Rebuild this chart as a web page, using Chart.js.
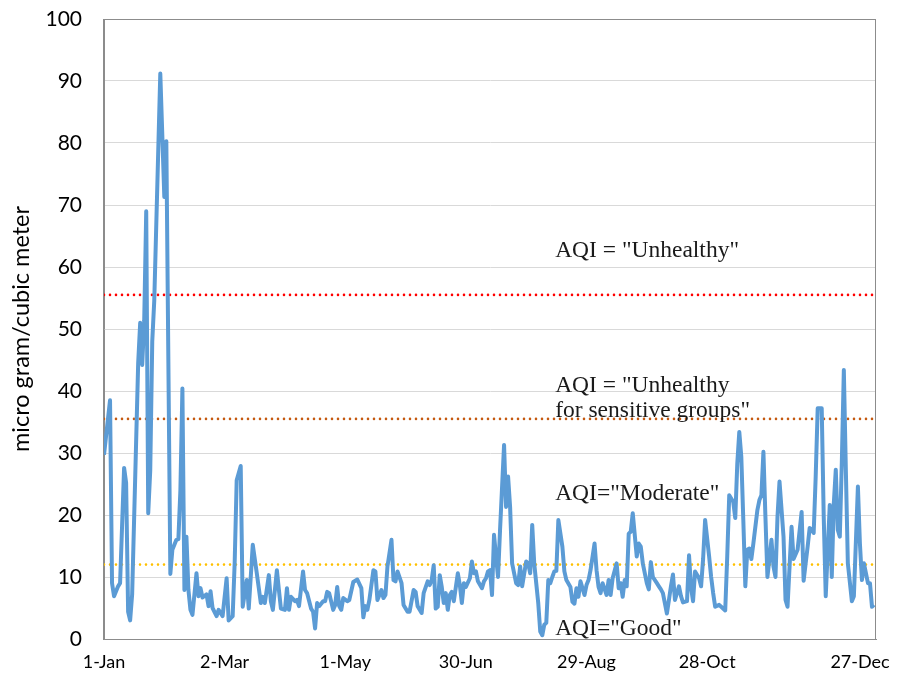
<!DOCTYPE html>
<html>
<head>
<meta charset="utf-8">
<script src="https://cdn.jsdelivr.net/npm/chart.js@4.4.1/dist/chart.umd.min.js"></script>
<style>
  html, body { margin: 0; padding: 0; background: #fff; }
  #wrap { width: 901px; height: 680px; }
</style>
</head>
<body>
<div id="wrap"><canvas id="pm25Chart"></canvas></div>
<script>
// day of the record (0 = 1-Jan) and the PM2.5 reading for that day
const days = [
  0, 3, 4, 5, 7, 8, 10, 11, 12, 13, 14, 17, 18, 19, 20, 21, 22, 23, 24, 25, 28, 30, 31, 33, 34, 36, 37, 38, 39, 40,
  41, 42, 43, 44, 46, 47, 48, 49, 51, 52, 53, 54, 56, 57, 59, 61, 62, 64, 65, 66, 68, 69, 71, 72, 74, 76, 78, 79, 80,
  82, 83, 84, 86, 87, 88, 90, 91, 92, 93, 95, 96, 97, 99, 100, 101, 103, 104, 105, 106, 107, 109, 110, 111, 112,
  114, 115, 116, 117, 118, 119, 121, 122, 124, 126, 128, 129, 130, 131, 132, 134, 135, 136, 138, 139, 140, 141,
  143, 144, 145, 146, 148, 149, 151, 152, 154, 155, 156, 158, 159, 161, 162, 163, 164, 165, 166, 167, 168, 169,
  170, 171, 172, 173, 174, 176, 177, 178, 179, 180, 182, 183, 184, 185, 186, 188, 189, 190, 191, 192, 193, 194,
  195, 196, 197, 199, 200, 201, 202, 203, 205, 206, 207, 208, 210, 211, 212, 213, 214, 215, 216, 217, 218, 219,
  220, 221, 222, 223, 224, 225, 226, 228, 229, 230, 232, 233, 234, 235, 236, 237, 239, 240, 241, 242, 244, 245,
  246, 247, 248, 250, 251, 252, 253, 255, 256, 257, 258, 259, 260, 261, 262, 263, 265, 266, 267, 268, 270, 271,
  272, 273, 275, 276, 277, 278, 280, 281, 282, 283, 284, 286, 287, 288, 290, 291, 292, 293, 294, 296, 297, 298,
  299, 301, 302, 303, 304, 306, 307, 309, 310, 311, 313, 314, 315, 316, 317, 318, 319, 320, 321, 322, 323, 325,
  326, 327, 328, 329, 330, 332, 333, 334, 335, 336, 338, 339, 340, 342, 343, 345, 347, 348, 350, 351, 352, 353,
  354, 355, 357, 358, 359, 360, 361, 362, 363, 364, 365, 366, 367, 368, 369, 370, 372, 373, 375, 376, 377, 378,
  380, 381, 382, 383
];
const pm25 = [
  29.7, 38.5, 9.0, 6.9, 8.5, 9.0, 27.6, 25.2, 4.4, 3.0, 7.2, 44.5, 51.0, 44.2, 51.3, 69.0, 20.3, 27.2, 48.0, 54.6, 91.2, 71.3, 80.3, 10.5, 14.4, 16.0, 16.1, 24.0, 40.4, 7.9,
  16.5, 7.9, 4.7, 3.9, 10.6, 6.9, 8.2, 6.7, 7.2, 5.3, 7.7, 5.0, 3.7, 4.7, 3.7, 9.8, 3.0, 3.7, 12.3, 25.6, 27.9, 5.2, 9.5, 4.9, 15.2, 10.6, 5.8, 6.8, 5.8,
  10.3, 6.1, 4.7, 11.1, 7.9, 4.9, 4.7, 8.2, 4.7, 6.8, 6.1, 6.3, 5.3, 10.9, 7.9, 7.4, 4.9, 4.4, 1.7, 5.8, 5.3, 6.1, 6.1, 7.6, 7.4,
  4.7, 5.5, 8.4, 5.3, 4.7, 6.6, 6.1, 6.3, 9.2, 9.6, 8.2, 3.5, 5.3, 4.7, 6.3, 11.1, 10.9, 6.3, 7.9, 6.6, 7.1, 11.7,
  16.0, 9.5, 9.3, 10.9, 9.0, 5.5, 4.4, 4.4, 7.9, 7.6, 5.3, 4.2, 7.4, 9.3, 8.7, 9.5, 11.9, 4.9, 5.2, 10.3, 8.4, 5.8,
  7.4, 4.7, 7.1, 7.6, 6.1, 10.6, 8.7, 5.8, 9.0, 8.4, 9.8, 12.5, 10.6, 10.9, 9.3, 8.2, 9.3, 9.8, 10.9, 11.1, 7.1, 16.8,
  13.3, 10.0, 17.6, 31.3, 21.3, 26.2, 21.3, 12.2, 9.0, 8.7, 11.7, 8.5, 12.5, 12.2, 10.6, 18.4, 12.2, 9.0, 5.8, 1.2, 0.6, 2.3,
  2.6, 9.5, 9.0, 10.0, 10.9, 11.0, 19.2, 14.9, 10.9, 9.5, 8.4, 6.0, 5.7, 8.2, 6.8, 9.3, 7.1, 8.7, 9.5, 11.1, 15.4, 11.1,
  8.4, 7.4, 9.0, 7.1, 9.5, 7.1, 9.8, 12.2, 8.2, 9.0, 6.8, 9.5, 8.5, 17.0, 17.3, 20.3, 13.3, 15.4, 14.9, 12.2, 9.0, 8.0,
  12.4, 10.0, 9.0, 8.5, 8.0, 7.4, 4.1, 6.3, 8.5, 10.4, 6.3, 8.5, 6.9, 5.9, 6.1, 13.5, 8.3, 6.1, 10.9, 9.8, 8.5, 12.9,
  19.2, 13.3, 10.0, 7.4, 5.2, 5.5, 5.2, 4.6, 13.3, 23.2, 22.1, 19.5, 28.3, 33.4, 29.4, 19.2, 8.5, 14.4, 14.6, 12.9, 15.4, 20.8,
  22.4, 23.2, 30.2, 19.7, 10.0, 16.0, 11.7, 10.0, 19.7, 25.4, 16.5, 6.3, 5.2, 18.1, 12.9, 14.4, 20.5, 9.4, 14.9, 17.9, 17.6, 17.1,
  26.2, 37.2, 37.2, 19.7, 6.9, 14.4, 21.6, 10.0, 21.8, 27.3, 17.6, 16.5, 28.5, 43.4, 27.3, 12.2, 6.1, 6.9, 24.6, 15.4, 9.5, 12.2,
  9.0, 9.0, 5.2, 5.5
];

// date axis, one label every 60 days
const tickDays = [0, 60, 120, 180, 240, 300, 360];
const tickLabels = ['1-Jan', '2-Mar', '1-May', '30-Jun', '29-Aug', '28-Oct', '27-Dec'];
const lastDay = 384;

// AQI breakpoints for PM2.5
const aqiLevels = [55.5, 35.5, 12];
const aqiColors = ['#ff0000', '#c55a11', '#ffc000'];
const aqiNotes = [
  ['AQI = "Unhealthy"'],
  ['AQI = "Unhealthy', 'for sensitive groups"'],
  ['AQI="Moderate"'],
  ['AQI="Good"']
];
const noteValues = [61.6, 39.8, 22.4, 0.6];
const noteDay = 224.4;

const series = days.map((d, i) => ({ x: d, y: pm25[i] }));

const levelSets = aqiLevels.map((v, i) => ({
  data: [{ x: 0, y: v }, { x: lastDay, y: v }],
  borderColor: aqiColors[i],
  borderWidth: 2.6,
  borderDash: [0, 6],
  borderCapStyle: 'round',
  pointRadius: 0,
  order: 2
}));

// box round the plot area and the AQI captions
const plotExtras = {
  id: 'plotExtras',
  beforeDatasetsDraw(chart) {
    const { ctx, chartArea: a } = chart;
    ctx.save();
    ctx.strokeStyle = '#8c8c8c';
    ctx.lineWidth = 1;
    ctx.strokeRect(a.left - 0.5, a.top + 0.5, a.right - a.left, a.bottom - a.top);
    ctx.restore();
  },
  afterDatasetsDraw(chart) {
    const { ctx, scales } = chart;
    ctx.save();
    ctx.fillStyle = '#1a1a1a';
    ctx.font = '23.5px "Liberation Serif", "DejaVu Serif", serif';
    ctx.textBaseline = 'alphabetic';
    const x = scales.x.getPixelForValue(noteDay);
    aqiNotes.forEach((lines, i) => {
      const y = scales.y.getPixelForValue(noteValues[i]);
      lines.forEach((t, k) => ctx.fillText(t, x, y + k * 25));
    });
    ctx.restore();
  }
};

new Chart(document.getElementById('pm25Chart'), {
  type: 'line',
  data: {
    datasets: [{
      data: series,
      borderColor: '#5b9bd5',
      borderWidth: 4,
      borderJoinStyle: 'round',
      pointRadius: 0,
      tension: 0,
      order: 1
    }, ...levelSets]
  },
  options: {
    responsive: true,
    maintainAspectRatio: false,
    animation: false,
    layout: { padding: { top: 19, right: 25, left: 0, bottom: 0 } },
    plugins: { legend: { display: false }, tooltip: { enabled: false } },
    scales: {
      x: {
        type: 'linear',
        min: 0,
        max: lastDay,
        afterBuildTicks: (s) => { s.ticks = tickDays.map(v => ({ value: v })); },
        afterFit: (s) => {
          s.height = 41;
          s.paddingLeft = 0;
          s.paddingRight = 0;
        },
        grid: { display: false, drawTicks: false },
        border: { color: '#8c8c8c' },
        ticks: {
          padding: 12,
          maxRotation: 0,
          autoSkip: false,
          color: '#000',
          font: { family: 'Lato', size: 18 },
          callback: (v) => {
            const i = tickDays.indexOf(v);
            if (i === tickDays.length - 1) return '\u00a0'.repeat(14) + tickLabels[i];
            return i >= 0 ? tickLabels[i] : '';
          }
        }
      },
      y: {
        min: 0,
        max: 100,
        afterFit: (s) => {
          s.width = 104;
          s.paddingTop = 0;
          s.paddingBottom = 0;
        },
        grid: { color: '#d9d9d9', drawTicks: false },
        border: { color: '#8c8c8c' },
        ticks: {
          stepSize: 10,
          padding: 22,
          color: '#000',
          font: { family: 'Lato', size: 21 }
        },
        title: {
          display: true,
          text: 'micro gram/cubic meter',
          color: '#000',
          padding: { top: 7, bottom: 0 },
          font: { family: 'Lato', size: 23.5 }
        }
      }
    }
  },
  plugins: [plotExtras]
});
</script>
</body>
</html>
